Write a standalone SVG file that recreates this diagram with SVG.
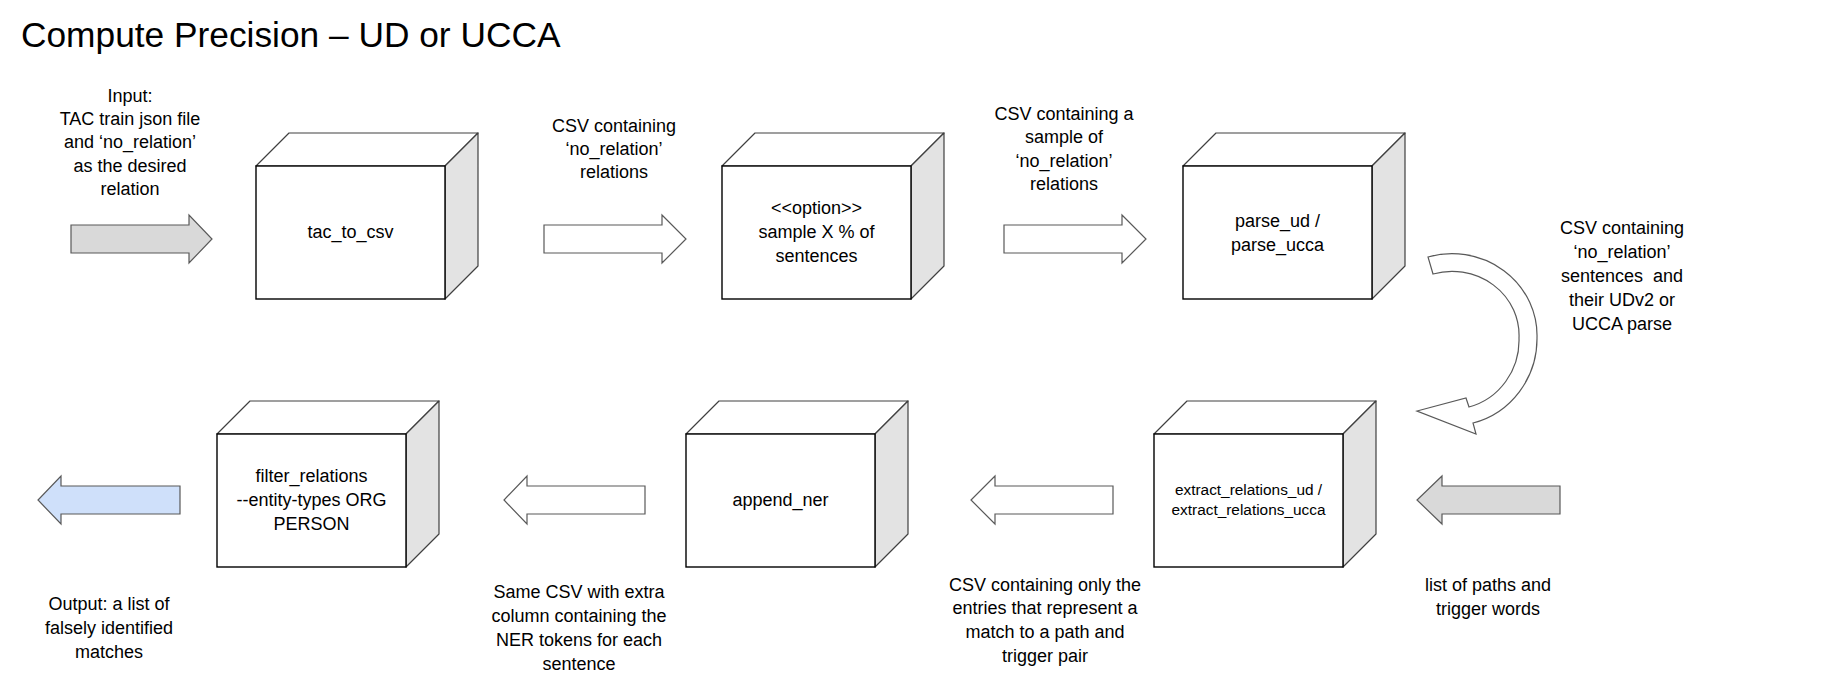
<svg xmlns="http://www.w3.org/2000/svg" width="1832" height="695" viewBox="0 0 1832 695">
<style>
.t{font-family:"Liberation Sans",Arial,sans-serif;font-size:18px;fill:#000;text-anchor:middle}
.s{font-size:15.4px}
.front{fill:#fff;stroke:#000;stroke-width:1.4}
.top{fill:#fff;stroke:#404040;stroke-width:1.2;stroke-linejoin:round}
.side{fill:#e3e3e3;stroke:#404040;stroke-width:1.2;stroke-linejoin:round}
.ag{fill:#d9d9d9;stroke:#595959;stroke-width:1.2}
.aw{fill:#fff;stroke:#595959;stroke-width:1.2}
.ab{fill:#cfe0fa;stroke:#595959;stroke-width:1.2}
</style>
<rect width="1832" height="695" fill="#fff"/>
<text x="21" y="47" style="font-family:'Liberation Sans',Arial,sans-serif;font-size:35.3px;fill:#000">Compute Precision – UD or UCCA</text>

<g id="tac_to_csv">
<polygon class="top" points="256,166 289,133 478,133 445,166"/>
<polygon class="side" points="445,166 478,133 478,266 445,299"/>
<rect class="front" x="256" y="166" width="189" height="133"/>
<text class="t" x="350.5" y="238">tac_to_csv</text>
</g>

<g id="sample">
<polygon class="top" points="722,166 755,133 944,133 911,166"/>
<polygon class="side" points="911,166 944,133 944,266 911,299"/>
<rect class="front" x="722" y="166" width="189" height="133"/>
<text class="t" x="816.5" y="214">&lt;&lt;option&gt;&gt;</text>
<text class="t" x="816.5" y="238">sample X % of</text>
<text class="t" x="816.5" y="262">sentences</text>
</g>

<g id="parse">
<polygon class="top" points="1183,166 1216,133 1405,133 1372,166"/>
<polygon class="side" points="1372,166 1405,133 1405,266 1372,299"/>
<rect class="front" x="1183" y="166" width="189" height="133"/>
<text class="t" x="1277.5" y="227">parse_ud /</text>
<text class="t" x="1277.5" y="251">parse_ucca</text>
</g>

<g id="extract">
<polygon class="top" points="1154,434 1187,401 1376,401 1343,434"/>
<polygon class="side" points="1343,434 1376,401 1376,534 1343,567"/>
<rect class="front" x="1154" y="434" width="189" height="133"/>
<text class="t s" x="1248.5" y="495">extract_relations_ud /</text>
<text class="t s" x="1248.5" y="515">extract_relations_ucca</text>
</g>

<g id="append_ner">
<polygon class="top" points="686,434 719,401 908,401 875,434"/>
<polygon class="side" points="875,434 908,401 908,534 875,567"/>
<rect class="front" x="686" y="434" width="189" height="133"/>
<text class="t" x="780.5" y="506">append_ner</text>
</g>

<g id="filter">
<polygon class="top" points="217,434 250,401 439,401 406,434"/>
<polygon class="side" points="406,434 439,401 439,534 406,567"/>
<rect class="front" x="217" y="434" width="189" height="133"/>
<text class="t" x="311.5" y="482">filter_relations</text>
<text class="t" x="311.5" y="506">--entity-types ORG</text>
<text class="t" x="311.5" y="530">PERSON</text>
</g>

<g id="connectors">
<polygon class="ag" points="71,225 189,225 189,215 212,239 189,263 189,253 71,253"/>
<polygon class="aw" points="544,225 662,225 662,215 686,239 662,263 662,253 544,253"/>
<polygon class="aw" points="1004,225 1122,225 1122,215 1146,239 1122,263 1122,253 1004,253"/>
<path class="aw" d="M1428,257 A85,82 0 0 1 1537,338 A85,87 0 0 1 1473,423 L1476,434 L1417,411 L1466,398 L1469,407 A67,69 0 0 0 1519,338 A67,64 0 0 0 1433,274 Z"/>
<polygon class="ag" points="1560,486 1442,486 1442,476 1417,500 1442,524 1442,514 1560,514"/>
<polygon class="aw" points="1113,486 995,486 995,476 971,500 995,524 995,514 1113,514"/>
<polygon class="aw" points="645,486 527,486 527,476 504,500 527,524 527,514 645,514"/>
<polygon class="ab" points="180,486 61,486 61,476 38,500 61,524 61,514 180,514"/>
</g>

<g id="labels">
<text class="t" x="130" y="102">Input:</text>
<text class="t" x="130" y="125">TAC train json file</text>
<text class="t" x="130" y="148">and ‘no_relation’</text>
<text class="t" x="130" y="172">as the desired</text>
<text class="t" x="130" y="195">relation</text>

<text class="t" x="614" y="132">CSV containing</text>
<text class="t" x="614" y="155">‘no_relation’</text>
<text class="t" x="614" y="178">relations</text>

<text class="t" x="1064" y="120">CSV containing a</text>
<text class="t" x="1064" y="143">sample of</text>
<text class="t" x="1064" y="167">‘no_relation’</text>
<text class="t" x="1064" y="190">relations</text>

<text class="t" x="1622" y="234" xml:space="preserve">CSV containing</text>
<text class="t" x="1622" y="258">‘no_relation’</text>
<text class="t" x="1622" y="282" xml:space="preserve">sentences  and</text>
<text class="t" x="1622" y="306">their UDv2 or</text>
<text class="t" x="1622" y="330">UCCA parse</text>

<text class="t" x="1488" y="591">list of paths and</text>
<text class="t" x="1488" y="615">trigger words</text>

<text class="t" x="1045" y="591">CSV containing only the</text>
<text class="t" x="1045" y="614">entries that represent a</text>
<text class="t" x="1045" y="638">match to a path and</text>
<text class="t" x="1045" y="662">trigger pair</text>

<text class="t" x="579" y="598">Same CSV with extra</text>
<text class="t" x="579" y="622">column containing the</text>
<text class="t" x="579" y="646">NER tokens for each</text>
<text class="t" x="579" y="670">sentence</text>

<text class="t" x="109" y="610">Output: a list of</text>
<text class="t" x="109" y="634">falsely identified</text>
<text class="t" x="109" y="658">matches</text>
</g>
</svg>
